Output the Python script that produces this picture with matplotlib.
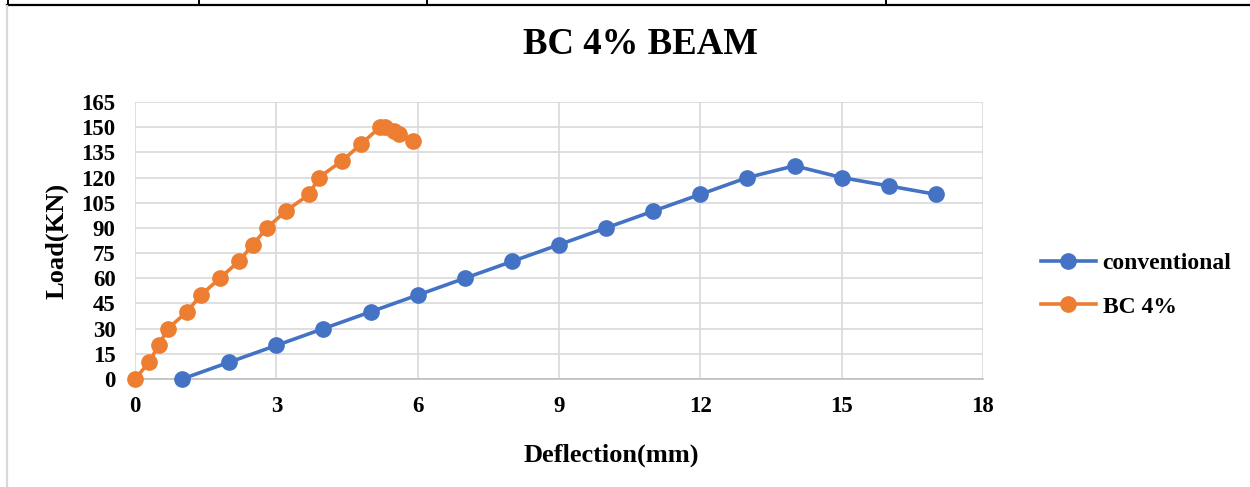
import matplotlib.pyplot as plt
from matplotlib.lines import Line2D

# conventional beam
conv_x = [1, 2, 3, 4, 5, 6, 7, 8, 9, 10, 11, 12, 13, 14, 15, 16, 17]
conv_y = [0, 10, 20, 30, 40, 50, 60, 70, 80, 90, 100, 110, 120, 127, 120, 115, 110]

# BC 4% beam
bc_x = [0, 0.3, 0.5, 0.7, 1.1, 1.4, 1.8, 2.2, 2.5, 2.8, 3.2, 3.7, 3.9, 4.4, 4.8,
        5.2, 5.3, 5.5, 5.6, 5.9]
bc_y = [0, 10, 20, 30, 40, 50, 60, 70, 80, 90, 100, 110, 120, 130, 140,
        150, 150, 148, 146, 142]

x_ticks = [0, 3, 6, 9, 12, 15, 18]
y_ticks = list(range(0, 166, 15))

plt.rcParams["font.family"] = ["Liberation Serif", "DejaVu Serif"]
plt.rcParams["font.weight"] = "bold"

W, H = 1250, 487
fig = plt.figure(figsize=(W / 100, H / 100), dpi=100)
ax = fig.add_axes([135 / W, 1 - 379 / H, (983 - 135) / W, (379 - 102) / H])

ax.plot(conv_x, conv_y, color="#4472C4", lw=2.6, marker="o", ms=11,
        label="conventional", clip_on=False, zorder=3)
ax.plot(bc_x, bc_y, color="#ED7D31", lw=2.6, marker="o", ms=11,
        label="BC 4%", clip_on=False, zorder=3)

ax.set_xlim(0, 18)
ax.set_ylim(0, 165)
ax.set_xticks(x_ticks)
ax.set_yticks(y_ticks)
ax.tick_params(length=0, labelsize=16.5, pad=14)
ax.tick_params(axis="x", pad=12)
for lab in ax.get_xticklabels() + ax.get_yticklabels():
    lab.set_fontweight("bold")
ax.grid(True, color="#d9d9d9", lw=1.2)
ax.set_axisbelow(True)
for s in ["top", "right", "left"]:
    ax.spines[s].set_visible(False)
ax.spines["bottom"].set_color("#bfbfbf")
ax.spines["bottom"].set_linewidth(1.2)

fig.text(640 / W, 1 - 45 / H, "BC 4% BEAM", ha="center", va="center",
         fontsize=26.5, fontweight="bold")
fig.text(611 / W, 1 - 455 / H, "Deflection(mm)", ha="center", va="center",
         fontsize=19, fontweight="bold")
fig.text(57 / W, 1 - 241 / H, "Load(KN)", ha="center", va="center",
         rotation=90, fontsize=19, fontweight="bold")

leg = fig.legend(loc="center left", bbox_to_anchor=(1020 / W, 1 - 285 / H),
                 frameon=False, prop={"size": 17, "weight": "bold"},
                 handlelength=2.3, labelspacing=0.95, handletextpad=0.3)

# page decoration around the chart
fig.add_artist(Line2D([7 / W, 1], [1 - 5 / H, 1 - 5 / H], color="black", lw=1.6))
for xp in [8, 199, 427, 886]:
    fig.add_artist(Line2D([xp / W, xp / W], [1 - 5 / H, 1], color="black", lw=1.4))
fig.add_artist(Line2D([7 / W, 7 / W], [0, 1 - 6 / H], color="#d9d9d9", lw=1.6))

fig.savefig("out.png", dpi=100)
